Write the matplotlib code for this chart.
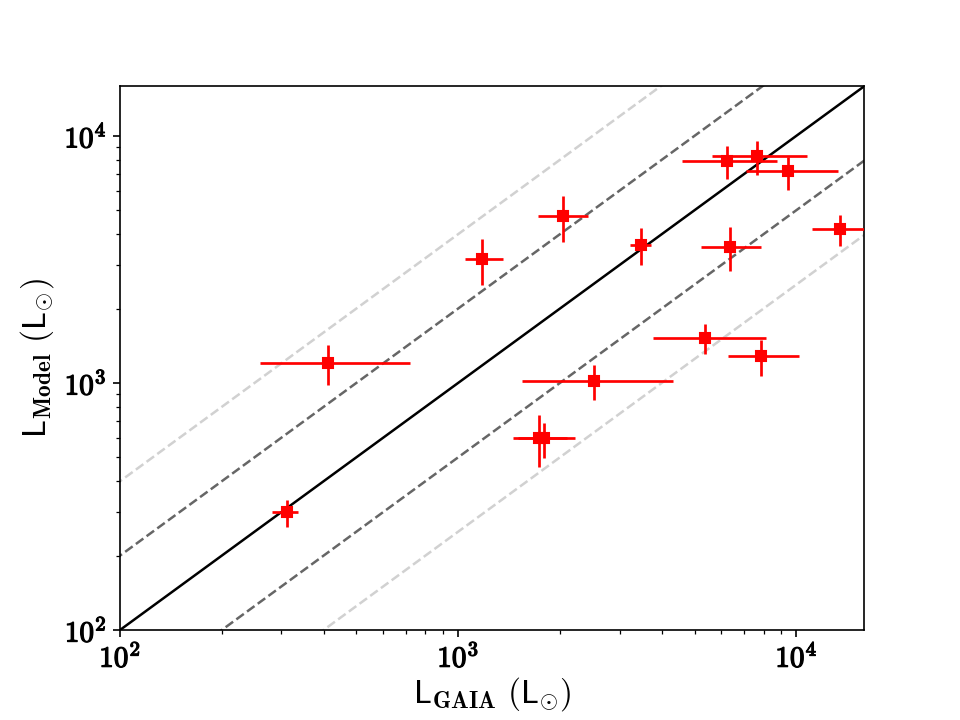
import numpy as np
import matplotlib
matplotlib.use('Agg')
import matplotlib.pyplot as plt
import matplotlib.patheffects as pe
from matplotlib.ticker import FuncFormatter

plt.rcParams['mathtext.fontset'] = 'cm'

# luminosities (L_sun)
L_gaia = [312, 411, 1180, 2035, 1730, 1789, 2520, 3464, 5360, 6220, 6363, 7625, 7834, 9470, 13480]
L_gaia_lo = [30, 151, 135, 308, 273, 289, 980, 245, 1594, 1627, 1140, 2006, 1540, 2380, 2390]
L_gaia_hi = [25, 310, 175, 388, 370, 425, 1800, 250, 2800, 2528, 1490, 3098, 2324, 3825, 2900]
L_model = [300, 1200, 3170, 4730, 600, 600, 1018, 3615, 1523, 7890, 3558, 8300, 1290, 7185, 4212]
L_model_lo = [38, 223, 685, 1004, 143, 105, 166, 616, 208, 1224, 731, 1379, 221, 1172, 640]
L_model_hi = [35, 226, 655, 973, 142, 91, 161, 613, 202, 1227, 710, 1216, 199, 1037, 576]

# one-to-one line and factor 2 / factor 4 offsets
lum = np.array([50, 50000])
ratios = [1, 2, 0.5, 4, 0.25]
ratio_styles = [('k', '-'), ('0.4', '--'), ('0.4', '--'), ('0.82', '--'), ('0.82', '--')]

fig, ax = plt.subplots(figsize=(6.4, 4.8), dpi=150)
plt.subplots_adjust(left=0.125, right=0.9, bottom=0.125, top=0.88)

for r, (c, ls) in zip(ratios, ratio_styles):
    ax.plot(lum, r * lum, color=c, ls=ls, lw=1.2, zorder=1)

ax.errorbar(L_gaia, L_model,
            xerr=[L_gaia_lo, L_gaia_hi], yerr=[L_model_lo, L_model_hi],
            fmt='s', color='red', ms=5, elinewidth=1.3, capsize=0, zorder=3)

ax.set_xscale('log')
ax.set_yscale('log')
ax.set_xlim(100, 1.585e4)
ax.set_ylim(100, 1.585e4)

bold_pow = FuncFormatter(lambda v, pos: r'$\mathbf{10}^{\mathbf{%d}}$' % round(np.log10(v)))
ax.xaxis.set_major_formatter(bold_pow)
ax.yaxis.set_major_formatter(bold_pow)
ax.tick_params(labelsize=14, pad=3)
# thicken the tick digits a little (LaTeX bold look)
for lab in ax.get_xticklabels() + ax.get_yticklabels():
    lab.set_path_effects([pe.withStroke(linewidth=0.6, foreground='black')])

ax.set_xlabel(r'$\mathsf{L}_{\mathbf{GAIA}}\ (\mathsf{L}_{\odot})$', fontsize=16, labelpad=1)
ax.set_ylabel(r'$\mathsf{L}_{\mathbf{Model}}\ (\mathsf{L}_{\odot})$', fontsize=16, labelpad=4)

plt.savefig('out.png')
